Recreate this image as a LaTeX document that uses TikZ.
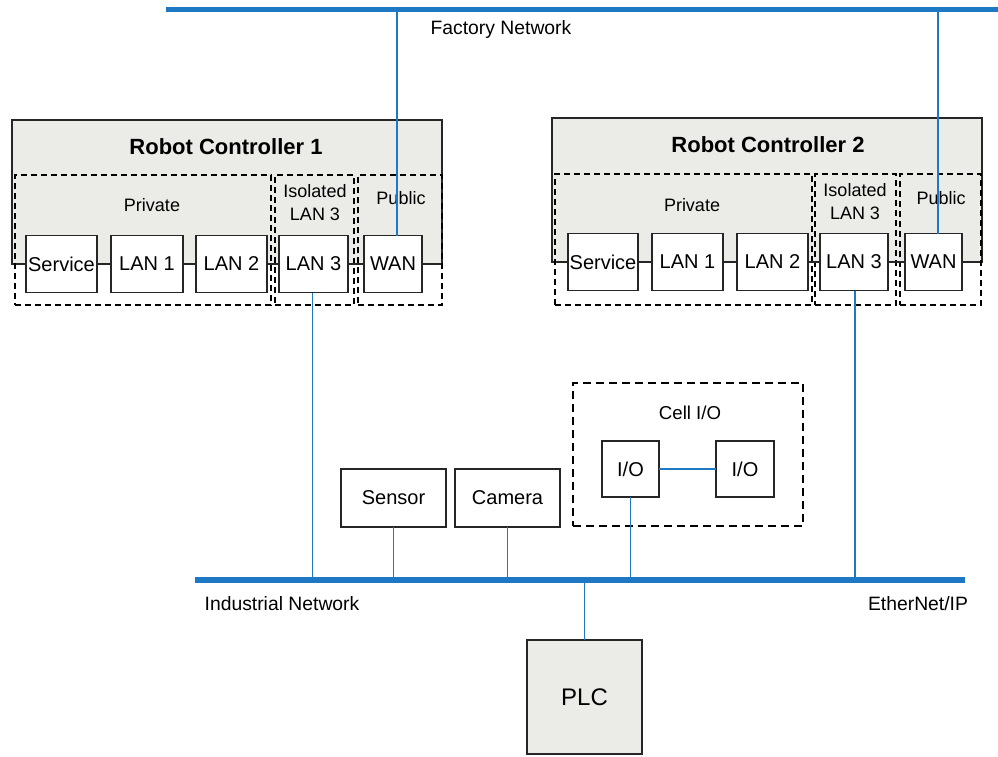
\documentclass[tikz,border=0pt]{standalone}
\usepackage{fontspec}
\setmainfont{Liberation Sans}
\definecolor{netblue}{RGB}{30,120,195}
\definecolor{ctrlgray}{RGB}{235,235,231}
\tikzset{
  every node/.style={inner sep=0pt, outer sep=0pt},
  bx/.style 2 args={draw=black!85, line width=0.8pt, fill=white,
     minimum width={#1*0.75pt}, minimum height={#2*0.75pt}, font=\fontsize{15}{17}\selectfont},
  ctrl/.style 2 args={draw=black!85, line width=0.8pt, fill=ctrlgray,
     minimum width={#1*0.75pt}, minimum height={#2*0.75pt}},
  zone/.style 2 args={draw=black, line width=1.4pt, dash pattern=on 4.5pt off 3pt,
     minimum width={#1*0.75pt}, minimum height={#2*0.75pt}},
  cellzone/.style 2 args={draw=black, line width=2.2pt, dash pattern=on 6pt off 3.75pt,
     minimum width={#1*0.75pt}, minimum height={#2*0.75pt}},
  zlabel/.style={font=\fontsize{13.5}{17.25}\selectfont, align=center},
  title/.style={font=\fontsize{16.5}{18}\selectfont\bfseries},
  netlabel/.style={font=\fontsize{14.5}{16}\selectfont},
  bus/.style={draw=netblue, line width=4pt},
  link/.style={draw=netblue, line width=1.4pt},
  wire/.style={draw=black!85, line width=0.8pt},
}
\begin{document}
\begin{tikzpicture}[x=0.75pt, y=-0.75pt]
\useasboundingbox (0,0) rectangle (998,756);

% Factory network bus
\coordinate (fA) at (166,9.5);
\coordinate (fB) at (998,9.5);
\draw[bus] (fA) -- (fB);
\node[netlabel] (factlbl) at (501,30) {Factory Network};
\coordinate (f1) at (397,9.5);
\coordinate (f2) at (938,9.5);

% Industrial network bus
\coordinate (iA) at (195,580);
\coordinate (iB) at (965,580);
\draw[bus] (iA) -- (iB);
\node[netlabel] (indlbl) at (282,604) {Industrial Network};
\node[netlabel] (eiplbl) at (918,604) {EtherNet/IP};

% ---------- Robot Controller 1 ----------
\node[ctrl={430}{144}] (rc1) at (227,192) {};
\node[title] (rc1t) at (226,147) {Robot Controller 1};
\node[zone={256}{130}] (priv1) at (143,240) {};
\node[zone={79}{130}] (iso1) at (314.5,240) {};
\node[zone={84}{130}] (pub1) at (400,240) {};
\node[zlabel] (priv1l) at (152,205) {Private};
\node[zlabel] (iso1l) at (315,203) {Isolated\\LAN 3};
\node[zlabel] (pub1l) at (401,198) {Public};
\node[bx={71}{57}] (svc1) at (61.5,264) {Service};
\node[bx={72}{57}] (lana1) at (147,264) {LAN 1};
\node[bx={71}{57}] (lanb1) at (231.5,264) {LAN 2};
\node[bx={69}{57}] (lanc1) at (313.5,264) {LAN 3};
\node[bx={58}{57}] (wan1) at (393,264) {WAN};
\draw[wire] (svc1) -- (lana1);
\draw[wire] (lana1) -- (lanb1);
\draw[wire] (lanb1) -- (lanc1);
\draw[wire] (lanc1) -- (wan1);
\draw[link] (f1) -- (f1 |- wan1.north);

% ---------- Robot Controller 2 ----------
\node[ctrl={430}{144}] (rc2) at (767,190) {};
\node[title] (rc2t) at (768,145) {Robot Controller 2};
\node[zone={257}{131}] (priv2) at (683.5,239.5) {};
\node[zone={81}{131}] (iso2) at (855.5,239.5) {};
\node[zone={81}{131}] (pub2) at (940.5,239.5) {};
\node[zlabel] (priv2l) at (692,205) {Private};
\node[zlabel] (iso2l) at (855,202) {Isolated\\LAN 3};
\node[zlabel] (pub2l) at (941,198) {Public};
\node[bx={70}{57}] (svc2) at (603,262) {Service};
\node[bx={71}{57}] (lana2) at (687.5,262) {LAN 1};
\node[bx={71}{57}] (lanb2) at (772.5,262) {LAN 2};
\node[bx={68}{57}] (lanc2) at (854,262) {LAN 3};
\node[bx={57}{57}] (wan2) at (933.5,262) {WAN};
\draw[wire] (svc2) -- (lana2);
\draw[wire] (lana2) -- (lanb2);
\draw[wire] (lanb2) -- (lanc2);
\draw[wire] (lanc2) -- (wan2);
\draw[link] (f2) -- (f2 |- wan2.north);

% LAN 3 links to industrial bus
\draw[link] ([xshift=-0.75pt]lanc1.south) -- ([xshift=-0.75pt]lanc1.south |- iA);
\draw[link] ([xshift=0.75pt]lanc2.south) -- ([xshift=0.75pt]lanc2.south |- iA);

% ---------- Field devices ----------
\node[bx={105}{58}] (sensor) at (393.5,498) {Sensor};
\node[bx={105}{58}] (camera) at (507.5,498) {Camera};
\node[cellzone={230}{143}] (cell) at (688,454.5) {};
\node[zlabel, font=\fontsize{14}{16}\selectfont] (celll) at (690,413) {Cell I/O};
\node[bx={57}{56}] (io1) at (630.5,469) {I/O};
\node[bx={58}{56}] (io2) at (745,469) {I/O};
\draw[link] (io1) -- (io2);
\draw[link] (sensor.south) -- (sensor.south |- iA);
\draw[link] (camera.south) -- (camera.south |- iA);
\draw[link] (io1.south) -- (io1.south |- iA);

% PLC
\node[ctrl={115}{114}, font=\fontsize{18}{20}\selectfont] (plc) at (584.5,697) {PLC};
\draw[link] (plc.north) -- (plc.north |- iA);
\end{tikzpicture}
\end{document}
